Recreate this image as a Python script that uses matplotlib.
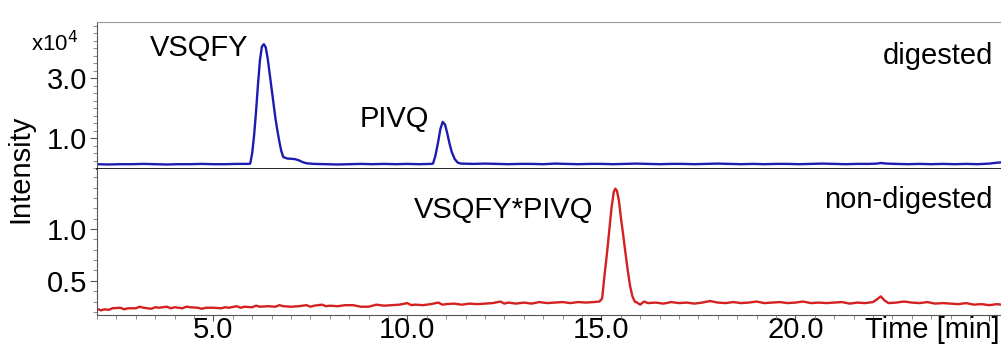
import matplotlib
matplotlib.use("Agg")
import matplotlib.pyplot as plt
from matplotlib.ticker import MultipleLocator, FixedLocator

plt.rcParams['font.family'] = ['Liberation Sans', 'DejaVu Sans']

# digested trace (intensity x10^4)
t_dig = [2.0, 2.3, 2.6, 2.9, 3.2, 3.5, 3.8, 4.1, 4.4, 4.7, 5.0, 5.3, 5.6, 5.9,
         5.95, 6.0, 6.05, 6.1, 6.15, 6.2, 6.25, 6.3, 6.35, 6.4, 6.45, 6.5, 6.55,
         6.6, 6.65, 6.7, 6.75, 6.8, 6.9, 7.0, 7.1, 7.2, 7.3, 7.4,
         7.6, 7.9, 8.2, 8.5, 8.8, 9.1, 9.4, 9.7, 10.0, 10.3, 10.6,
         10.66, 10.72, 10.79, 10.85, 10.91, 10.97, 11.03, 11.08, 11.14, 11.22, 11.3, 11.38,
         11.7, 12.0, 12.3, 12.6, 12.9, 13.2, 13.5, 13.8, 14.1, 14.4, 14.7, 15.0,
         15.3, 15.6, 15.9, 16.2, 16.5, 16.8, 17.1, 17.4, 17.7, 18.0, 18.3, 18.6,
         18.9, 19.2, 19.5, 19.8, 20.1, 20.4, 20.7, 21.0, 21.3, 21.6, 21.9, 22.1,
         22.2, 22.35, 22.6, 22.9, 23.2, 23.5, 23.8, 24.1, 24.4, 24.7, 25.0, 25.2, 25.3]
i_dig = [0.13, 0.12, 0.13, 0.13, 0.14, 0.13, 0.12, 0.13, 0.13, 0.14, 0.13, 0.13, 0.14, 0.14,
         0.15, 0.5, 1.1, 1.9, 2.8, 3.6, 4.05, 4.13, 4.02, 3.65, 3.15, 2.65, 2.15,
         1.65, 1.25, 0.88, 0.57, 0.37, 0.32, 0.31, 0.30, 0.26, 0.2, 0.16,
         0.14, 0.13, 0.12, 0.13, 0.14, 0.13, 0.14, 0.13, 0.14, 0.13, 0.14,
         0.15, 0.4, 0.85, 1.3, 1.54, 1.45, 1.15, 0.85, 0.55, 0.3, 0.18, 0.15,
         0.14, 0.15, 0.14, 0.13, 0.14, 0.14, 0.13, 0.15, 0.14, 0.13, 0.14, 0.14,
         0.13, 0.14, 0.15, 0.14, 0.13, 0.14, 0.14, 0.13, 0.14, 0.15, 0.14, 0.13,
         0.14, 0.13, 0.14, 0.14, 0.13, 0.14, 0.15, 0.14, 0.13, 0.14, 0.14, 0.15,
         0.17, 0.15, 0.14, 0.13, 0.14, 0.13, 0.14, 0.13, 0.14, 0.13, 0.15, 0.18, 0.19]

# non-digested trace (intensity x10^4)
t_non = [2.0, 2.1, 2.2, 2.3, 2.4, 2.6, 2.7, 2.8, 3.0, 3.1, 3.2, 3.4, 3.5, 3.6, 3.8, 3.9, 4.0,
         4.2, 4.3, 4.4, 4.6, 4.7, 4.8,
         5.0, 5.2, 5.3, 5.4, 5.6, 5.7, 5.8, 6.0, 6.1, 6.2, 6.4, 6.6, 6.7, 6.8, 7.0, 7.2, 7.4,
         7.5, 7.6, 7.8, 7.9,
         8.0, 8.2, 8.4, 8.6, 8.8, 9.0, 9.2, 9.4, 9.6, 9.8, 10.0, 10.1, 10.2, 10.4, 10.6, 10.8,
         10.9, 11.0, 11.2, 11.4, 11.6, 11.8, 12.0, 12.2, 12.4, 12.5, 12.6, 12.8, 13.0, 13.2,
         13.4, 13.6, 13.8, 14.0, 14.2, 14.4, 14.6, 14.8, 14.95,
         15.02, 15.08, 15.14, 15.2, 15.26, 15.32, 15.36, 15.4, 15.45, 15.5, 15.56,
         15.62, 15.68, 15.74, 15.8, 15.86, 15.92, 16.0, 16.1,
         16.2, 16.4, 16.6, 16.8, 17.0, 17.2, 17.4, 17.6, 17.8, 18.0, 18.2, 18.4, 18.6,
         18.8, 19.0, 19.2, 19.4, 19.6, 19.8, 20.0, 20.2, 20.4, 20.6, 20.8, 21.0, 21.2,
         21.4, 21.6, 21.8, 22.0, 22.1, 22.2, 22.3, 22.4, 22.6, 22.8, 23.0, 23.2, 23.4,
         23.6, 23.8, 24.0, 24.2, 24.4, 24.6, 24.8, 25.0, 25.2, 25.3]
i_non = [0.23, 0.215, 0.225, 0.22, 0.235, 0.24, 0.225, 0.235, 0.235, 0.25, 0.24, 0.23, 0.245,
         0.24, 0.25, 0.235, 0.245,
         0.235, 0.25, 0.245, 0.24, 0.23, 0.24,
         0.24, 0.235, 0.245, 0.24, 0.255, 0.24, 0.25, 0.245, 0.26, 0.25, 0.255, 0.25, 0.265,
         0.255, 0.25, 0.255, 0.265, 0.25, 0.26, 0.27, 0.255,
         0.26, 0.255, 0.265, 0.265, 0.25, 0.25, 0.27, 0.26, 0.265, 0.27, 0.285, 0.265, 0.27,
         0.265, 0.275, 0.29, 0.27, 0.275, 0.28, 0.27, 0.28, 0.275, 0.28, 0.285, 0.30, 0.28,
         0.29, 0.28, 0.29, 0.28, 0.295, 0.285, 0.29, 0.295, 0.285, 0.295, 0.29, 0.295, 0.30,
         0.33, 0.55, 0.75, 0.98, 1.2, 1.36, 1.39, 1.37, 1.28, 1.12, 0.95,
         0.77, 0.6, 0.45, 0.35, 0.30, 0.29, 0.27, 0.30,
         0.285, 0.29, 0.28, 0.295, 0.285, 0.29, 0.28, 0.29, 0.305, 0.29, 0.285, 0.295, 0.285,
         0.29, 0.30, 0.285, 0.29, 0.295, 0.285, 0.29, 0.30, 0.285, 0.29, 0.285, 0.29, 0.295,
         0.28, 0.29, 0.285, 0.295, 0.32, 0.35, 0.31, 0.285, 0.29, 0.30, 0.29, 0.285, 0.295,
         0.28, 0.285, 0.28, 0.275, 0.285, 0.27, 0.275, 0.265, 0.275, 0.27]

peaks_dig = [("VSQFY", 4.64, 4.0), ("PIVQ", 9.66, 1.63)]
peaks_non = [("VSQFY*PIVQ", 12.47, 1.18)]

fs = 21
fig = plt.figure(figsize=(10.01, 3.52), dpi=100)
ax1 = fig.add_axes([0.0969, 0.5199, 0.9031, 0.4176])
ax2 = fig.add_axes([0.0969, 0.1051, 0.9031, 0.4148])

ax1.plot(t_dig, i_dig, color='#1c1cb0', lw=1.7)
ax2.plot(t_non, i_non, color='#d42020', lw=1.7)

for ax in (ax1, ax2):
    ax.set_xlim(2.0, 25.3)
    ax.spines['right'].set_visible(False)
    ax.spines['left'].set_color('#555555')
    ax.tick_params(axis='y', which='major', labelsize=fs, length=5, width=0.8,
                   color='#555555', pad=2)
    ax.tick_params(axis='x', which='major', labelsize=fs, length=4, width=0.8,
                   color='#555555', pad=-3)
    ax.tick_params(axis='both', which='minor', length=3, width=0.6, color='#777777')
    ax.xaxis.set_major_locator(MultipleLocator(5))
    ax.xaxis.set_minor_locator(MultipleLocator(0.5))

ax1.set_ylim(-0.03, 4.87)
ax1.yaxis.set_major_locator(FixedLocator([1.0, 3.0]))
ax1.yaxis.set_minor_locator(MultipleLocator(0.25))
ax1.yaxis.set_major_formatter(lambda v, p: f"{v:.1f}")
ax1.spines['top'].set_color('#999999')
ax1.spines['bottom'].set_color('black')
ax1.spines['bottom'].set_linewidth(1.2)
ax1.tick_params(axis='x', which='both', bottom=False, labelbottom=False)

ax2.set_ylim(0.17, 1.58)
ax2.yaxis.set_major_locator(FixedLocator([0.5, 1.0]))
ax2.yaxis.set_minor_locator(MultipleLocator(0.1))
ax2.yaxis.set_major_formatter(lambda v, p: f"{v:.1f}")
ax2.xaxis.set_major_formatter(lambda v, p: f"{v:.1f}" if v < 21 else "")
ax2.spines['top'].set_visible(False)
ax2.spines['bottom'].set_color('#555555')

for name, x, y in peaks_dig:
    ax1.text(x, y, name, fontsize=fs, ha='center', va='center')
for name, x, y in peaks_non:
    ax2.text(x, y, name, fontsize=fs, ha='center', va='center')

ax1.text(0.991, 0.769, "digested", transform=ax1.transAxes, fontsize=fs,
         ha='right', va='center')
ax2.text(0.991, 0.788, "non-digested", transform=ax2.transAxes, fontsize=fs,
         ha='right', va='center')
ax2.text(0.998, -0.105, "Time [min]", transform=ax2.transAxes, fontsize=fs,
         ha='right', va='center')

fig.text(0.020, 0.52, "Intensity", rotation=90, fontsize=fs, ha='center', va='center')
fig.text(0.031, 0.877, r"x10$^4$", fontsize=16, ha='left', va='center')

fig.savefig("out.png", dpi=100)
